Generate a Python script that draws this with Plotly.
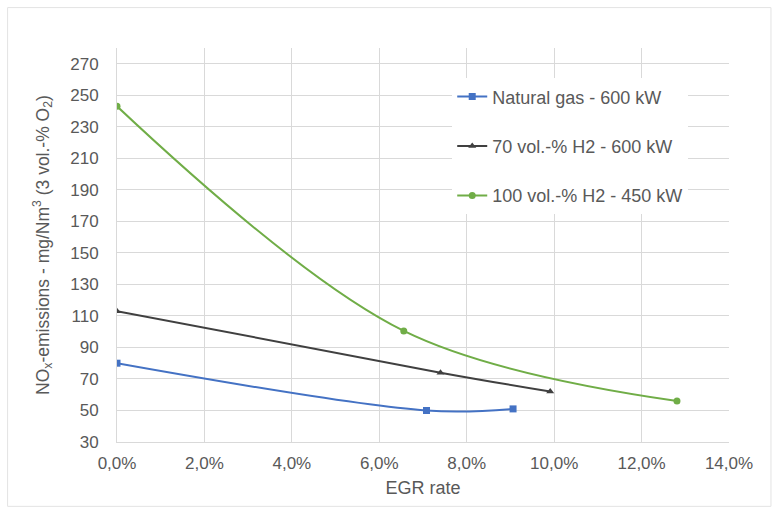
import plotly.graph_objects as go

# ---- data ----
ng_x = [0.0, 0.0708, 0.0906]
ng_y = [80, 50, 51]
h70_x = [0.0, 0.0740, 0.0991]
h70_y = [113, 74, 62]
h100_x = [0.0, 0.0656, 0.1281]
h100_y = [243, 100.5, 56]

names = ["Natural gas - 600 kW", "70 vol.-% H2 - 600 kW", "100 vol.-% H2 - 450 kW"]
colors = ["#4472C4", "#404040", "#70AD47"]
symbols = ["square", "triangle-up", "circle"]
x_ticks = [0, 0.02, 0.04, 0.06, 0.08, 0.10, 0.12, 0.14]
y_ticks = [30, 50, 70, 90, 110, 130, 150, 170, 190, 210, 230, 250, 270]

W, H = 779, 511
L, R, T, B = 116.5, 729, 47.5, 442.5  # plot area pixel box

fig = go.Figure()
for i, (xs, ys) in enumerate([(ng_x, ng_y), (h70_x, h70_y), (h100_x, h100_y)]):
    fig.add_trace(go.Scatter(
        x=xs, y=ys, name=names[i], mode="lines+markers",
        line=dict(color=colors[i], width=2, shape="spline", smoothing=1),
        marker=dict(symbol=symbols[i], size=7, color=colors[i]),
        legendgroup=f"g{i}",
    ))

def px_x(p):
    return (p - L) / (R - L)

def px_y(p):
    return (B - p) / (B - T)

fig.update_layout(
    width=W, height=H,
    margin=dict(l=L, r=W - R, t=T, b=H - B),
    paper_bgcolor="white", plot_bgcolor="white",
    font=dict(family="Liberation Sans, Arial, sans-serif", size=17, color="#595959"),
    separators=",.",
    showlegend=True,
    legend=dict(
        x=px_x(452), y=px_y(78), xanchor="left", yanchor="top",
        bgcolor="white", tracegroupgap=23,
        font=dict(size=18, color="#595959"),
    ),
    xaxis=dict(
        range=[0, 0.14], tickvals=x_ticks,
        tickformat=".1%", showgrid=True, gridcolor="#d9d9d9", gridwidth=1,
        zeroline=False, showline=True, linecolor="#d9d9d9", linewidth=1,
        ticks="", ticklabelstandoff=6, tickfont=dict(size=17),
        title=dict(text="EGR rate", font=dict(size=18, color="#595959"), standoff=8),
    ),
    yaxis=dict(
        range=[30, 280], tickvals=y_ticks,
        showgrid=True, gridcolor="#d9d9d9", gridwidth=1,
        zeroline=False, showline=True, linecolor="#d9d9d9", linewidth=1,
        ticks="", ticklabelstandoff=14, tickfont=dict(size=17),
        title=dict(text="NO<sub>x</sub>-emissions - mg/Nm<sup>3</sup> (3 vol.-% O<sub>2</sub>)",
                   font=dict(size=17.5, color="#595959"), standoff=16),
    ),
    shapes=[
        dict(type="rect", xref="paper", yref="paper",
             x0=px_x(7), x1=px_x(771), y0=px_y(507), y1=px_y(7),
             line=dict(color="#e3e3e3", width=1), fillcolor="rgba(0,0,0,0)", layer="below"),
        dict(type="rect", xref="paper", yref="paper",
             x0=px_x(449), x1=px_x(716), y0=px_y(222), y1=px_y(74),
             line=dict(width=0), fillcolor="white", layer="between"),
    ],
)

fig.write_html("out.html")
